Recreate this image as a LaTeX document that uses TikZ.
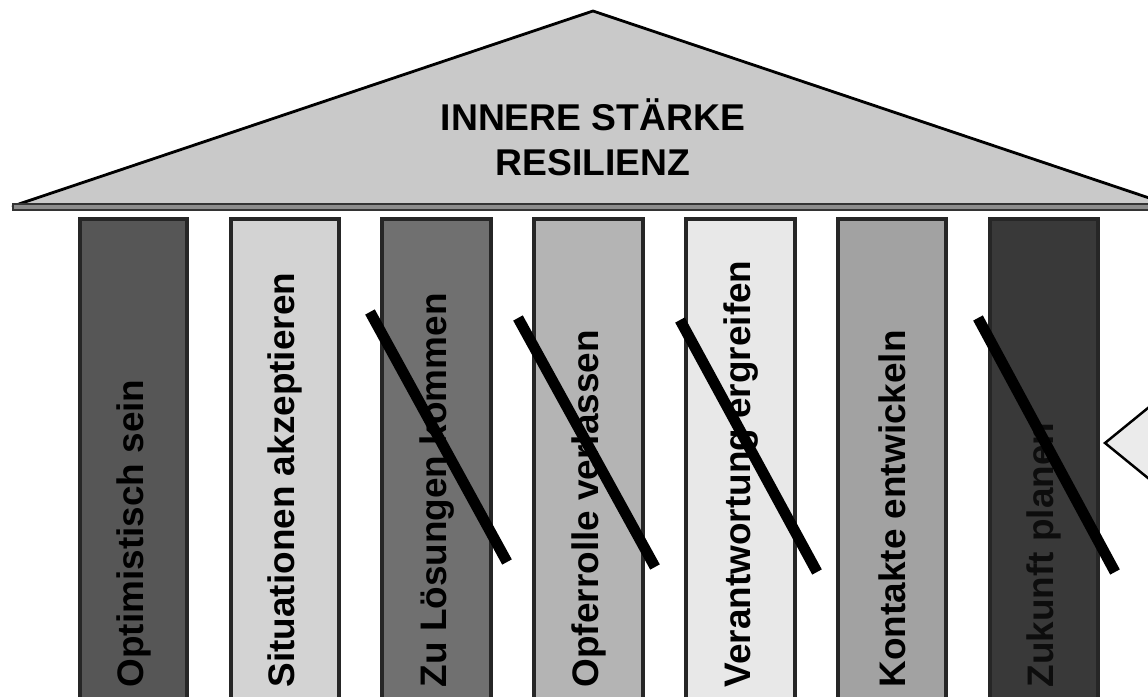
\documentclass[tikz,border=0pt]{standalone}
\usepackage{fontspec}
\setmainfont{Liberation Sans}
\definecolor{roofgray}{HTML}{C9C9C9}
\definecolor{pA}{HTML}{565656}
\definecolor{pB}{HTML}{D3D3D3}
\definecolor{pC}{HTML}{707070}
\definecolor{pD}{HTML}{B4B4B4}
\definecolor{pE}{HTML}{E8E8E8}
\definecolor{pF}{HTML}{A2A2A2}
\definecolor{pG}{HTML}{393939}
\tikzset{
  pillar/.style={draw=black!85, line width=0.9pt},
  plabel/.style={rotate=90, anchor=west, inner sep=0pt, font=\bfseries\fontsize{10.5}{12}\selectfont, text=black},
  strike/.style={line width=3.1pt, line cap=butt, black},
  rooflabel/.style={align=center, inner sep=0pt, font=\bfseries\fontsize{10.6}{12.8}\selectfont},
}
\begin{document}
\begin{tikzpicture}[x=0.01cm, y=-0.01cm]
\useasboundingbox (0,0) rectangle (1148,697);
\clip (0,0) rectangle (1148,697);
\fill[white] (0,0) rectangle (1148,697);
% roof
\filldraw[fill=roofgray, draw=black, line width=0.8pt, line join=round] (13,206) -- (593,11) -- (1173,206) -- cycle;
\filldraw[fill=black!45, draw=black!80, line width=0.5pt] (13,204) rectangle (1160,210);
\node[rooflabel] (roof) at (593,137) {INNERE STÄRKE\\RESILIENZ};
% pillars
\path[pillar, fill=pA] (80,219) rectangle (187,720);
\path[pillar, fill=pB] (231,219) rectangle (339,720);
\path[pillar, fill=pC] (382,219) rectangle (491,720);
\path[pillar, fill=pD] (534,219) rectangle (643,720);
\path[pillar, fill=pE] (686,219) rectangle (795,720);
\path[pillar, fill=pF] (838,219) rectangle (946,720);
\path[pillar, fill=pG] (990,219) rectangle (1098,720);
% labels
\node[plabel] (t1) at (134,688) {Optimistisch sein};
\node[plabel] (t2) at (285,688) {Situationen akzeptieren};
\node[plabel] (t3) at (437,688) {Zu Lösungen kommen};
\node[plabel] (t4) at (589,688) {Opferrolle verlassen};
\node[plabel] (t5) at (741,688) {Verantwortung ergreifen};
\node[plabel] (t6) at (892,688) {Kontakte entwickeln};
\node[plabel, text=black!95] (t7) at (1044,688) {Zukunft planen};
% strike-through lines
\draw[strike] (370,312) -- (507,562);
\draw[strike] (518,318) -- (655,567);
\draw[strike] (680,320) -- (817,572);
\draw[strike] (978,318) -- (1115,572);
% partial callout at right
\filldraw[fill=black!8, draw=black, line width=0.7pt] (1170,390) -- (1105,443) -- (1170,496);
\end{tikzpicture}
\end{document}
